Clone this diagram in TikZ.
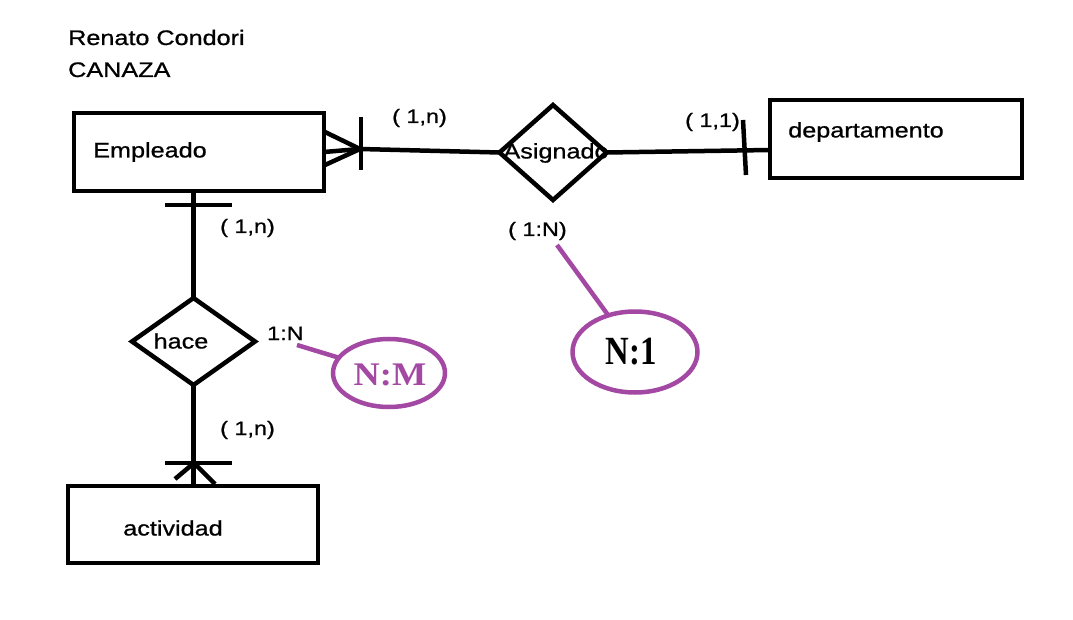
\documentclass[tikz,border=0pt]{standalone}
\usepackage{fontspec}
\usetikzlibrary{shapes.geometric}
\newfontfamily\pf{Liberation Sans}[FakeStretch=1.2,FakeBold=0.8]
\newfontfamily\nmf{Liberation Serif}[FakeStretch=1.1]
\newfontfamily\nof{Liberation Serif}[FakeStretch=0.82]
\definecolor{paintpurple}{HTML}{A349A4}
\begin{document}
\begin{tikzpicture}[x=1pt,y=-1pt,
  ent/.style={draw, line width=4.5pt, rectangle, inner sep=0pt, outer sep=0pt},
  rel/.style={draw, line width=4.5pt, diamond, inner sep=0pt, outer sep=0pt},
  lbl/.style={font=\pf\fontsize{21}{24}\selectfont, inner sep=0pt},
  card/.style={font=\pf\fontsize{19.5}{22}\selectfont, inner sep=0pt, anchor=base west},
  conn/.style={line width=4.5pt},
  tickln/.style={line width=4.5pt},
  note/.style={draw=paintpurple, line width=4.5pt, ellipse, inner sep=0pt, outer sep=0pt},
  noteline/.style={draw=paintpurple, line width=4.5pt}
]
\fill[white] (0,0) rectangle (1073,620);
\useasboundingbox (0,0) rectangle (1073,620);

% title
\node[lbl, anchor=base west] (t1) at (68,45) {Renato Condori};
\node[lbl, anchor=base west] (t2) at (68,77) {CANAZA};

% entities
\node[ent, minimum width=250pt, minimum height=78pt] (emp) at (199,152) {};
\node[lbl] (empt) at (150,152) {Empleado};
\node[ent, minimum width=252pt, minimum height=78pt] (dep) at (896,139) {};
\node[lbl] (dept) at (866,132) {departamento};
\node[ent, minimum width=250pt, minimum height=77pt] (act) at (193,524.5) {};
\node[lbl] (actt) at (173,528) {actividad};

% relationships
\node[rel, minimum width=107pt, minimum height=95pt] (asig) at (553,152.5) {};
\node[lbl] (asigt) at (556,153) {Asignado};
\node[rel, minimum width=123pt, minimum height=87pt] (hace) at (193.5,341.5) {};
\node[lbl] (hacet) at (181,341) {hace};

% Empleado -- Asignado (crow's foot at Empleado)
\coordinate (cfa) at (360,149);
\draw[conn] (emp.east) -- (cfa) -- (asig.west);
\draw[conn] (325,132) -- (cfa) -- (325,165);
\draw[tickln] (361,117) -- (361,170);

% Asignado -- departamento
\coordinate (dpin) at (770,150);
\draw[conn] (asig.east) -- (dpin);
\draw[tickln] (743,120) -- (746,175);

% Empleado -- hace
\draw[conn] (hace.north) -- (hace.north |- emp.south);
\draw[tickln] (165,205) -- (232,205);

% hace -- actividad
\coordinate (cfb) at (194,463);
\draw[conn] (hace.south) -- (hace.south |- act.north);
\draw[tickln] (165,463) -- (232,463);
\draw[conn] (175,479) -- (cfb) -- (215,484);

% cardinalities
\node[card] (c1) at (392,123) {( 1,n)};
\node[card] (c2) at (685,127) {( 1,1)};
\node[card] (c3) at (220,233) {( 1,n)};
\node[card] (c4) at (220,435) {( 1,n)};
\node[card] (c5) at (508,236) {( 1:N)};
\node[card] (c6) at (267,340) {1:N};

% notes
\node[note, minimum width=112pt, minimum height=68pt] (nm) at (389,373) {};
\node[font=\nmf\bfseries\fontsize{33}{36}\selectfont, text=paintpurple, inner sep=0pt] (nmt) at (390,375) {N:M};
\coordinate (nma) at (297,345);
\draw[noteline] (nma) -- (nm);

\node[note, minimum width=125pt, minimum height=81pt] (n1) at (635,352) {};
\node[font=\nof\bfseries\fontsize{40}{44}\selectfont, inner sep=0pt] (n1t) at (631,352) {N:1};
\coordinate (n1a) at (557,245);
\draw[noteline] (n1a) -- (n1);
\end{tikzpicture}
\end{document}
